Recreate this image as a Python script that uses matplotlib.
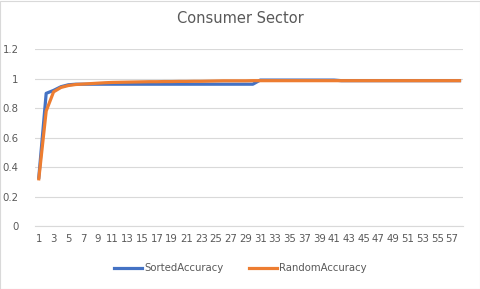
import numpy as np
import matplotlib
matplotlib.use("Agg")
import matplotlib.pyplot as plt

steps = list(range(1, 59))
sorted_acc = ([0.33, 0.90, 0.92, 0.945, 0.958, 0.962]
              + [0.962] * 24
              + [0.99] * 11
              + [0.986] * 17)
random_acc = ([0.32, 0.78, 0.91, 0.94, 0.953, 0.96, 0.963, 0.966, 0.969, 0.972,
               0.974, 0.975, 0.976, 0.977, 0.978, 0.979, 0.979, 0.98, 0.98, 0.981,
               0.981, 0.982, 0.982, 0.983, 0.984, 0.985, 0.985, 0.985, 0.985, 0.986]
              + [0.986] * 28)

grey = "#595959"
fig = plt.figure(figsize=(4.81, 2.89), dpi=100)
fig.patch.set_facecolor("white")
ax = fig.add_axes([0.073, 0.218, 0.890, 0.612])

ax.plot(steps, sorted_acc, color="#4472C4", lw=2.3, label="SortedAccuracy",
        solid_joinstyle="round")
ax.plot(steps, random_acc, color="#ED7D31", lw=2.3, label="RandomAccuracy",
        solid_joinstyle="round")

ax.set_xlim(0.5, 58.5)
ax.set_ylim(0, 1.2)
ax.set_yticks([0, 0.2, 0.4, 0.6, 0.8, 1, 1.2])
ax.set_yticklabels(["0", "0.2", "0.4", "0.6", "0.8", "1", "1.2"])
ax.set_xticks(steps[::2])
ax.tick_params(axis="both", length=0, labelsize=7.3, colors=grey)
ax.tick_params(axis="y", pad=12)
ax.tick_params(axis="x", pad=6)
ax.grid(axis="y", color="#D9D9D9", lw=0.8)
ax.set_axisbelow(True)
for s in ax.spines.values():
    s.set_visible(False)
ax.spines["bottom"].set_visible(True)
ax.spines["bottom"].set_color("#D9D9D9")

fig.text(0.5, 0.935, "Consumer Sector", ha="center", va="center",
         fontsize=10.5, color=grey)
fig.legend(loc="center", bbox_to_anchor=(0.5, 0.072), ncol=2, frameon=False,
           fontsize=7.3, labelcolor=grey, handlelength=2.8, handletextpad=0.2,
           columnspacing=2.5)

# outer chart border
fig.add_artist(plt.Rectangle((0.001, 0.001), 0.997, 0.996, transform=fig.transFigure,
                             fill=False, edgecolor="#D9D9D9", lw=0.8))

fig.savefig("out.png", dpi=100)
